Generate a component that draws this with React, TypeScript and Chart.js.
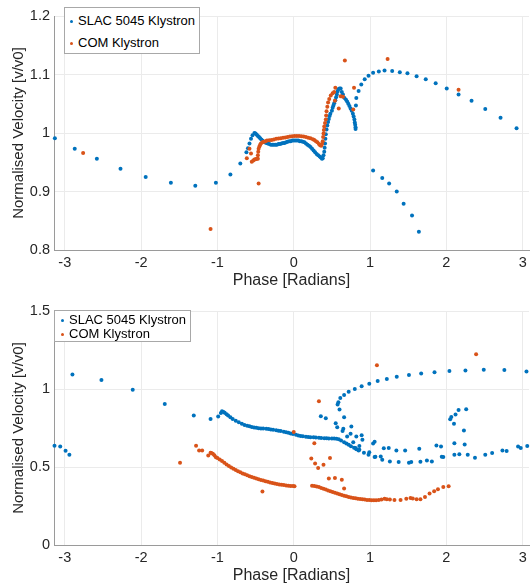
import React, { useEffect, useRef } from "react";
import { Chart, registerables } from "chart.js";

Chart.register(...registerables);

const FONT = '"Liberation Sans", Arial, Helvetica, sans-serif';
const BLUE = "#0072BD";
const ORANGE = "#D95319";
const TEXT = "#262626";

const seriesNames = ["SLAC 5045 Klystron", "COM Klystron"];
const phaseTicks = [-3, -2, -1, 0, 1, 2, 3];
const topVelTicks = [0.8, 0.9, 1, 1.1, 1.2];
const bottomVelTicks = [0, 0.5, 1, 1.5];

// Top plot, SLAC 5045 [phase, v/v0]
const topSlac: [number, number][] = [
  [-3.13, 0.991], [-2.87, 0.973], [-2.58, 0.956], [-2.27, 0.939], [-1.94, 0.925],
  [-1.61, 0.915], [-1.29, 0.91], [-1.02, 0.915], [-0.83, 0.929], [-0.7, 0.948],
  [-0.62, 0.967], [-0.6, 0.974], [-0.58, 0.982], [-0.56, 0.99], [-0.54, 0.996],
  [-0.515, 1.0], [-0.5, 0.999], [-0.485, 0.997], [-0.47, 0.995], [-0.455, 0.993],
  [-0.44, 0.991], [-0.425, 0.989], [-0.41, 0.987], [-0.395, 0.985], [-0.38, 0.984],
  [-0.36, 0.983], [-0.34, 0.982], [-0.32, 0.981], [-0.3, 0.98], [-0.28, 0.98],
  [-0.26, 0.98], [-0.24, 0.98], [-0.22, 0.98], [-0.2, 0.981], [-0.18, 0.981],
  [-0.16, 0.982], [-0.14, 0.983], [-0.12, 0.983], [-0.1, 0.984], [-0.08, 0.985],
  [-0.06, 0.986], [-0.04, 0.986], [-0.02, 0.987], [0.0, 0.987], [0.02, 0.987],
  [0.04, 0.987], [0.06, 0.987], [0.08, 0.986], [0.1, 0.986], [0.12, 0.985],
  [0.14, 0.984], [0.16, 0.982], [0.18, 0.98], [0.2, 0.978], [0.22, 0.976],
  [0.24, 0.973], [0.26, 0.97], [0.28, 0.967], [0.3, 0.964], [0.32, 0.962],
  [0.34, 0.96], [0.355, 0.958], [0.37, 0.956], [0.38, 0.957], [0.39, 0.962],
  [0.4, 0.968], [0.405, 0.975], [0.41, 0.982], [0.415, 0.99], [0.42, 0.998],
  [0.43, 1.006], [0.44, 1.013], [0.45, 1.019], [0.46, 1.024], [0.47, 1.029],
  [0.48, 1.033], [0.5, 1.038], [0.51, 1.043], [0.52, 1.047], [0.53, 1.051],
  [0.545, 1.056], [0.555, 1.061], [0.565, 1.066], [0.575, 1.071], [0.585, 1.075],
  [0.6, 1.076], [0.615, 1.076], [0.63, 1.07], [0.645, 1.066], [0.665, 1.06],
  [0.685, 1.057], [0.7, 1.054], [0.715, 1.05], [0.73, 1.046], [0.745, 1.042],
  [0.76, 1.038], [0.775, 1.033], [0.785, 1.028], [0.795, 1.023], [0.8, 1.018],
  [0.805, 1.014], [0.81, 1.01], [0.81, 1.007], [0.815, 1.047], [0.82, 1.06],
  [0.85, 1.072], [0.885, 1.083], [0.93, 1.092], [0.98, 1.098], [1.04, 1.103],
  [1.115, 1.105], [1.19, 1.107], [1.29, 1.106], [1.39, 1.104], [1.49, 1.102],
  [1.61, 1.097], [1.73, 1.092], [1.86, 1.085], [2.005, 1.076], [2.16, 1.066],
  [2.33, 1.055], [2.51, 1.041], [2.71, 1.026], [2.92, 1.008],
  [1.04, 0.936], [1.16, 0.923], [1.25, 0.9135], [1.35, 0.9], [1.44, 0.879],
  [1.55, 0.859], [1.64, 0.831],
];

// Top plot, COM [phase, v/v0]
const topCom: [number, number][] = [
  [-2.76, 0.966], [-1.09, 0.836], [-0.615, 0.957], [-0.58, 0.973], [-0.56, 0.965],
  [-0.55, 0.951], [-0.53, 0.953], [-0.515, 0.9545], [-0.5, 0.955], [-0.485, 0.956],
  [-0.47, 0.956], [-0.46, 0.9135], [-0.47, 0.962], [-0.465, 0.968], [-0.46, 0.973],
  [-0.45, 0.977], [-0.44, 0.98], [-0.43, 0.982], [-0.41, 0.984], [-0.39, 0.985],
  [-0.37, 0.986], [-0.35, 0.987], [-0.32, 0.9875], [-0.29, 0.988], [-0.26, 0.989],
  [-0.23, 0.99], [-0.2, 0.9905], [-0.17, 0.991], [-0.14, 0.992], [-0.11, 0.9925],
  [-0.08, 0.993], [-0.05, 0.994], [-0.02, 0.9945], [0.01, 0.995], [0.04, 0.995],
  [0.07, 0.995], [0.1, 0.9945], [0.13, 0.994], [0.16, 0.993], [0.19, 0.992],
  [0.22, 0.991], [0.25, 0.9895], [0.27, 0.988], [0.29, 0.986], [0.31, 0.984],
  [0.33, 0.981], [0.345, 0.979], [0.36, 0.978], [0.37, 0.981], [0.38, 0.986],
  [0.385, 0.993], [0.39, 0.999], [0.395, 1.005], [0.4, 1.011], [0.41, 1.017],
  [0.42, 1.023], [0.425, 1.03], [0.43, 1.037], [0.44, 1.045], [0.45, 1.052],
  [0.465, 1.058], [0.485, 1.064], [0.51, 1.068], [0.53, 1.07], [0.545, 1.0775],
  [0.54, 1.055], [0.59, 1.042], [0.615, 1.063], [0.645, 1.062], [0.67, 1.124],
  [0.79, 1.0775], [0.78, 1.04], [1.23, 1.1265], [2.16, 1.074],
];

// Bottom plot, SLAC 5045 [phase, v/v0]
const bottomSlac: [number, number][] = [
  [-3.135, 0.636], [-3.06, 0.632], [-2.99, 0.604], [-2.94, 0.579], [-2.9, 1.093],
  [-2.52, 1.057], [-2.11, 0.995], [-1.69, 0.904], [-1.31, 0.83], [-1.09, 0.808],
  [-0.99, 0.823], [-0.955, 0.846], [-0.94, 0.857], [-0.92, 0.853], [-0.905, 0.847],
  [-0.88, 0.838], [-0.86, 0.83], [-0.83, 0.819], [-0.8, 0.808], [-0.76, 0.797],
  [-0.72, 0.787], [-0.68, 0.778], [-0.645, 0.77], [-0.61, 0.765], [-0.58, 0.761],
  [-0.55, 0.757], [-0.52, 0.754], [-0.49, 0.751], [-0.46, 0.749], [-0.43, 0.747],
  [-0.4, 0.746], [-0.36, 0.745], [-0.33, 0.743], [-0.3, 0.741], [-0.27, 0.739],
  [-0.23, 0.736], [-0.2, 0.733], [-0.17, 0.73], [-0.13, 0.726], [-0.1, 0.723],
  [-0.07, 0.719], [-0.04, 0.715], [-0.01, 0.711], [0.03, 0.706], [0.06, 0.702],
  [0.09, 0.699], [0.12, 0.697], [0.16, 0.694], [0.19, 0.692], [0.22, 0.691],
  [0.26, 0.69], [0.29, 0.689], [0.33, 0.687], [0.36, 0.686], [0.4, 0.685],
  [0.43, 0.684], [0.46, 0.683], [0.5, 0.682], [0.53, 0.682], [0.56, 0.681],
  [0.59, 0.678], [0.62, 0.67], [0.66, 0.659], [0.69, 0.651], [0.72, 0.643],
  [0.75, 0.633], [0.79, 0.623], [0.82, 0.614], [0.85, 0.606], [0.92, 0.592],
  [0.98, 0.579], [1.06, 0.564], [1.16, 0.547], [1.26, 0.536], [1.375, 0.532],
  [1.51, 0.528], [1.66, 0.534], [1.81, 0.536], [1.96, 0.564], [2.105, 0.579],
  [2.28, 0.579], [2.375, 0.56], [2.51, 0.579], [2.6, 0.59], [2.735, 0.606],
  [2.79, 0.602], [2.94, 0.632], [2.975, 0.622], [3.06, 0.634],
  [0.355, 0.825], [0.42, 0.812], [0.55, 0.781], [0.57, 0.755], [0.64, 0.73],
  [0.65, 0.745], [0.66, 0.819], [0.6, 0.868], [0.575, 0.9], [0.585, 0.915],
  [0.61, 0.943], [0.66, 0.962], [0.72, 0.983], [0.8, 1.0], [0.89, 1.017],
  [0.99, 1.034], [1.1, 1.051], [1.22, 1.064], [1.35, 1.079], [1.51, 1.089],
  [1.67, 1.1], [1.845, 1.108], [2.04, 1.115], [2.25, 1.119], [2.49, 1.123],
  [2.76, 1.121], [3.05, 1.112],
  [0.755, 0.759], [0.7, 0.696], [0.745, 0.713], [0.82, 0.696], [0.89, 0.704],
  [0.9, 0.675], [0.78, 0.659], [0.81, 0.621], [0.86, 0.634], [0.86, 0.611],
  [0.99, 0.595], [1.04, 0.651], [1.06, 0.662], [1.07, 0.566], [1.14, 0.568],
  [1.18, 0.62], [1.245, 0.622], [1.345, 0.606], [1.46, 0.606], [1.54, 0.532],
  [1.645, 0.617], [1.745, 0.542], [1.87, 0.638], [1.93, 0.632], [1.94, 0.566],
  [2.105, 0.653], [2.17, 0.581], [2.24, 0.645], [2.23, 0.734], [2.1, 0.777],
  [2.05, 0.806], [2.065, 0.82], [2.12, 0.836], [2.16, 0.866], [2.26, 0.87],
];

// Bottom plot, COM [phase, v/v0]
const bottomCom: [number, number][] = [
  [-1.49, 0.528], [-1.28, 0.636], [-1.24, 0.606], [-1.2, 0.606], [-1.12, 0.574],
  [-1.09, 0.592], [-1.08, 0.59], [-1.06, 0.585], [-1.04, 0.575], [-1.02, 0.562],
  [-1.0, 0.557], [-0.97, 0.548], [-0.94, 0.538], [-0.91, 0.527], [-0.88, 0.516],
  [-0.85, 0.506], [-0.82, 0.497], [-0.79, 0.488], [-0.76, 0.48], [-0.73, 0.473],
  [-0.7, 0.466], [-0.67, 0.459], [-0.64, 0.453], [-0.61, 0.447], [-0.58, 0.441],
  [-0.55, 0.436], [-0.52, 0.431], [-0.49, 0.426], [-0.46, 0.421], [-0.43, 0.417],
  [-0.4, 0.413], [-0.37, 0.409], [-0.34, 0.405], [-0.31, 0.401], [-0.28, 0.397],
  [-0.25, 0.394], [-0.22, 0.391], [-0.19, 0.388], [-0.16, 0.386], [-0.13, 0.384],
  [-0.1, 0.382], [-0.07, 0.38], [-0.04, 0.379], [-0.01, 0.378], [0.01, 0.377],
  [-0.41, 0.343], [0.0, 0.724], [0.33, 0.921], [1.09, 1.152], [2.39, 1.223],
  [0.27, 0.653], [0.23, 0.555], [0.28, 0.523], [0.32, 0.493], [0.39, 0.515],
  [0.475, 0.558], [0.46, 0.426], [0.54, 0.43], [0.63, 0.419], [0.66, 0.362],
  [0.24, 0.38], [0.27, 0.378], [0.3, 0.375], [0.33, 0.371], [0.36, 0.366],
  [0.39, 0.361], [0.42, 0.356], [0.45, 0.35], [0.48, 0.345], [0.51, 0.34],
  [0.54, 0.335], [0.57, 0.33], [0.6, 0.325], [0.63, 0.32], [0.66, 0.316],
  [0.69, 0.312], [0.72, 0.308], [0.75, 0.305], [0.78, 0.302], [0.81, 0.299],
  [0.84, 0.297], [0.87, 0.295], [0.9, 0.293], [0.93, 0.291], [0.96, 0.289],
  [0.99, 0.288], [1.02, 0.287], [1.05, 0.287], [1.08, 0.287], [1.115, 0.288],
  [1.15, 0.292], [1.19, 0.297], [1.22, 0.294], [1.26, 0.292], [1.32, 0.288],
  [1.4, 0.288], [1.475, 0.296], [1.53, 0.302], [1.56, 0.298], [1.61, 0.294],
  [1.66, 0.294], [1.72, 0.308], [1.78, 0.33], [1.84, 0.345], [1.89, 0.357],
  [1.96, 0.372], [2.03, 0.377],
];

const toPts = (arr: [number, number][]) => arr.map(([x, y]) => ({ x, y }));

function makeConfig(
  slac: [number, number][],
  com: [number, number][],
  yMin: number,
  yMax: number,
  yTicks: number[],
  padTop: number,
  xAxisHeight: number,
  xTitlePadBottom: number
): any {
  return {
    type: "scatter",
    data: {
      datasets: [
        {
          label: seriesNames[0],
          data: toPts(slac),
          backgroundColor: BLUE,
          borderWidth: 0,
          pointRadius: 2,
          pointHoverRadius: 2,
          order: 1,
          clip: false,
        },
        {
          label: seriesNames[1],
          data: toPts(com),
          backgroundColor: ORANGE,
          borderWidth: 0,
          pointRadius: 2,
          pointHoverRadius: 2,
          order: 0,
          clip: false,
        },
      ],
    },
    options: {
      responsive: false,
      animation: false,
      events: [],
      layout: { padding: { top: padTop, left: 0, right: 0, bottom: 0 } },
      plugins: { legend: { display: false }, tooltip: { enabled: false } },
      scales: {
        x: {
          type: "linear",
          min: -Math.PI,
          max: 3.083,
          afterBuildTicks: (s: any) => {
            s.ticks = phaseTicks.map((v) => ({ value: v }));
          },
          afterFit: (s: any) => {
            s.height = xAxisHeight;
          },
          ticks: {
            font: { family: FONT, size: 14.5 },
            color: TEXT,
            padding: 4,
            maxRotation: 0,
            autoSkip: false,
            callback: (v: any) => String(v),
          },
          grid: { color: "#ebebeb", drawTicks: false },
          border: { display: true, color: "#9a9a9a", width: 1 },
          title: {
            display: true,
            text: "Phase [Radians]",
            font: { family: FONT, size: 16, lineHeight: 1.2 },
            color: TEXT,
            padding: { top: 0, bottom: xTitlePadBottom },
          },
        },
        y: {
          type: "linear",
          min: yMin,
          max: yMax,
          afterBuildTicks: (s: any) => {
            s.ticks = yTicks.map((v) => ({ value: v }));
          },
          afterFit: (s: any) => {
            s.width = 54;
          },
          ticks: {
            font: { family: FONT, size: 14.5 },
            color: TEXT,
            padding: 4,
            autoSkip: false,
            callback: (v: any) => String(v),
          },
          grid: { color: "#ebebeb", drawTicks: false },
          border: { display: true, color: "#9a9a9a", width: 1 },
          title: {
            display: true,
            text: "Normalised Velocity [v/v0]",
            font: { family: FONT, size: 15, lineHeight: 1.2 },
            color: TEXT,
            padding: { top: 10, bottom: 0 },
          },
        },
      },
    },
  };
}

function Legend(props: { left: number; top: number; width: number; height: number; rows: number[]; dotX: number; textX: number }) {
  const { left, top, width, height, rows, dotX, textX } = props;
  const colors = [BLUE, ORANGE];
  return (
    <div
      style={{
        position: "absolute",
        left,
        top,
        width,
        height,
        boxSizing: "border-box",
        border: "1px solid #a8a8a8",
        background: "#ffffff",
      }}
    >
      {seriesNames.map((name, i) => (
        <React.Fragment key={name}>
          <div
            style={{
              position: "absolute",
              left: dotX - left - 1.5 - 1,
              top: rows[i] - top - 1.5 - 1,
              width: 3,
              height: 3,
              borderRadius: "50%",
              background: colors[i],
            }}
          />
          <div
            style={{
              position: "absolute",
              left: textX - left - 1,
              top: rows[i] - top - 9 - 1,
              height: 18,
              lineHeight: "18px",
              fontFamily: FONT,
              fontSize: 13,
              color: "#000",
              whiteSpace: "nowrap",
            }}
          >
            {name}
          </div>
        </React.Fragment>
      ))}
    </div>
  );
}

export default function App() {
  const topRef = useRef<HTMLCanvasElement | null>(null);
  const botRef = useRef<HTMLCanvasElement | null>(null);

  useEffect(() => {
    const c1 = new Chart(topRef.current as HTMLCanvasElement, makeConfig(topSlac, topCom, 0.8, 1.2, topVelTicks, 16, 42, 2));
    const c2 = new Chart(botRef.current as HTMLCanvasElement, makeConfig(bottomSlac, bottomCom, 0, 1.5, bottomVelTicks, 19, 40, 0));
    return () => {
      c1.destroy();
      c2.destroy();
    };
  }, []);

  return (
    <div style={{ position: "fixed", left: 0, top: 0, width: 531, height: 585, background: "#fff", overflow: "hidden" }}>
      <canvas ref={topRef} width={531} height={292} style={{ position: "absolute", left: 0, top: 0, width: 531, height: 292 }} />
      <canvas ref={botRef} width={531} height={293} style={{ position: "absolute", left: 0, top: 292, width: 531, height: 293 }} />
      <Legend left={64} top={7} width={136} height={47} rows={[21, 43]} dotX={71} textX={78} />
      <Legend left={54} top={310} width={137} height={32} rows={[320, 334]} dotX={62} textX={69} />
    </div>
  );
}
